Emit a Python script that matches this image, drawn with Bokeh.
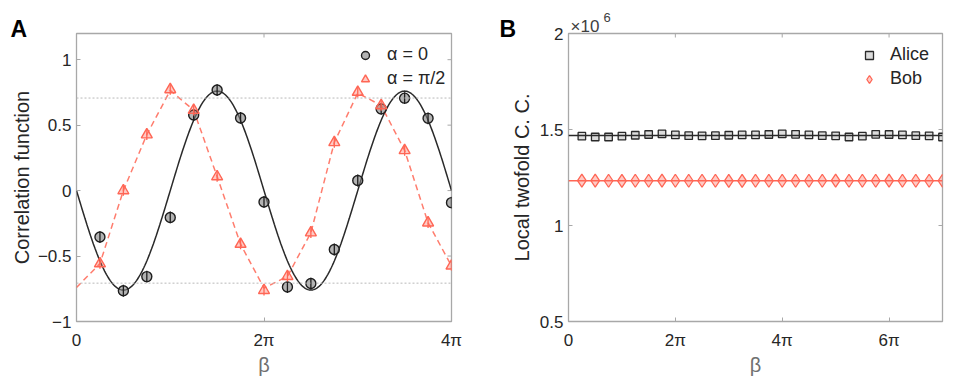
import numpy as np
from bokeh.plotting import figure
from bokeh.models import FixedTicker, Legend, LegendItem, Label, Range1d, Span
from bokeh.layouts import row
from bokeh.embed import file_html
from bokeh.resources import INLINE

FONT = "Liberation Sans"
TXT = "#262626"
AX = "#a8a8a8"
RED = "#ff6655"

# ---------------- Panel A data (beta in units of pi) ----------------
beta_a = [0.25, 0.5, 0.75, 1.0, 1.25, 1.5, 1.75, 2.0,
          2.25, 2.5, 2.75, 3.0, 3.25, 3.5, 3.75, 4.0]
corr_alpha0 = [-0.355, -0.765, -0.657, -0.205, 0.578, 0.768, 0.555, -0.087,
               -0.737, -0.710, -0.450, 0.077, 0.624, 0.706, 0.552, -0.092]
err_alpha0 = [0.045, 0.045, 0.045, 0.045, 0.045, 0.045, 0.045, 0.045,
              0.045, 0.045, 0.045, 0.045, 0.045, 0.045, 0.045, 0.045]
corr_alpha_pi2 = [-0.558, 0.000, 0.427, 0.772, 0.614, 0.107, -0.409, -0.762,
                  -0.655, -0.322, 0.368, 0.752, 0.650, 0.307, -0.246, -0.575]
err_alpha_pi2 = [0.04, 0.04, 0.04, 0.04, 0.04, 0.04, 0.04, 0.04,
                 0.04, 0.04, 0.04, 0.04, 0.04, 0.04, 0.04, 0.04]
# dashed guide curve for alpha = pi/2
dash_beta = [0.0, 0.25, 0.5, 0.75, 1.0, 1.25, 1.5, 1.75, 2.0,
             2.25, 2.5, 2.75, 3.0, 3.25, 3.5, 3.75, 4.0]
dash_alpha_pi2 = [-0.74, -0.558, 0.000, 0.427, 0.765, 0.614, 0.107, -0.409, -0.745,
                  -0.655, -0.322, 0.368, 0.745, 0.650, 0.307, -0.246, -0.575]
# sinusoidal fit for alpha = 0 :  C(beta) = -A sin(beta)
fit_amp_alpha0 = 0.76
bound = 0.707  # 1/sqrt(2) reference lines

xticks_a = [0, 2, 4]
xtick_labels_a = ["0", "2π", "4π"]
yticks_a = [-1, -0.5, 0, 0.5, 1]
ytick_labels_a = ["−1", "−0.5", "0", "0.5", "1"]

# ---------------- Panel B data ----------------
beta_b = [0.25, 0.5, 0.75, 1.0, 1.25, 1.5, 1.75, 2.0, 2.25, 2.5, 2.75, 3.0, 3.25, 3.5,
          3.75, 4.0, 4.25, 4.5, 4.75, 5.0, 5.25, 5.5, 5.75, 6.0, 6.25, 6.5, 6.75, 7.0]
alice_cc = [1.465e6, 1.461e6, 1.461e6, 1.465e6, 1.470e6, 1.474e6, 1.477e6, 1.472e6,
            1.468e6, 1.467e6, 1.468e6, 1.470e6, 1.472e6, 1.472e6, 1.474e6, 1.477e6,
            1.475e6, 1.472e6, 1.468e6, 1.467e6, 1.461e6, 1.465e6, 1.475e6, 1.474e6,
            1.472e6, 1.468e6, 1.467e6, 1.461e6]
bob_cc = [1.234e6, 1.234e6, 1.233e6, 1.232e6, 1.233e6, 1.233e6, 1.234e6, 1.233e6,
          1.233e6, 1.233e6, 1.233e6, 1.232e6, 1.232e6, 1.233e6, 1.233e6, 1.233e6,
          1.233e6, 1.233e6, 1.233e6, 1.234e6, 1.233e6, 1.233e6, 1.233e6, 1.234e6,
          1.233e6, 1.233e6, 1.233e6, 1.233e6]
alice_mean = 1.469e6
bob_mean = 1.233e6

xticks_b = [0, 2, 4, 6]
xtick_labels_b = ["0", "2π", "4π", "6π"]
yticks_b = [500000, 1000000, 1500000, 2000000]
ytick_labels_b = ["0.5", "1", "1.5", "2"]

H = 383
TOP, BOTTOM = 33, 62
TICK = 4


def style_axis(ax, ticks, labels):
    ax.ticker = FixedTicker(ticks=ticks)
    ax.major_label_overrides = dict(zip(ticks, labels))
    ax.axis_line_color = None
    ax.major_tick_in = TICK
    ax.major_tick_out = 0
    ax.major_tick_line_color = AX
    ax.major_tick_line_width = 1
    ax.minor_tick_line_color = None
    ax.major_label_text_font = FONT
    ax.major_label_text_font_size = "17px"
    ax.major_label_text_color = TXT
    ax.axis_label_text_font = FONT
    ax.axis_label_text_font_size = "20px"
    ax.axis_label_text_font_style = "normal"
    ax.axis_label_text_color = TXT


def make_fig(width, x0, x1, y0, y1, left, right, xt, xl, yt, yl, xlabel, ylabel):
    p = figure(width=width, height=H, x_range=Range1d(x0, x1), y_range=Range1d(y0, y1),
               output_backend="svg", toolbar_location=None,
               min_border_left=left, min_border_right=right,
               min_border_top=TOP, min_border_bottom=BOTTOM)
    p.grid.visible = False
    p.outline_line_color = AX
    p.outline_line_width = 1.3
    style_axis(p.xaxis[0], xt, xl)
    style_axis(p.yaxis[0], yt, yl)
    p.xaxis[0].axis_label = xlabel
    p.yaxis[0].axis_label = ylabel
    p.xaxis[0].major_label_standoff = 9
    p.yaxis[0].major_label_standoff = 5
    p.xaxis[0].axis_label_standoff = 1
    p.xaxis[0].axis_label_text_color = "#707070"
    # mirrored inner ticks on the top and right edges of the box
    fw = width - left - right
    fh = H - TOP - BOTTOM
    dy = TICK * (y1 - y0) / fh
    dx = TICK * (x1 - x0) / fw
    p.segment(xt, [y1] * len(xt), xt, [y1 - dy] * len(xt), line_color=AX, line_width=1)
    p.segment([x1] * len(yt), yt, [x1 - dx] * len(yt), yt, line_color=AX, line_width=1)
    return p


# ---------------- Panel A ----------------
pA = make_fig(488, 0, 4, -1, 1.2, 76, 37,
              xticks_a, xtick_labels_a, yticks_a, ytick_labels_a,
              "β", "Correlation function")
pA.yaxis[0].axis_label_standoff = 2

for b in (bound, -bound):
    pA.add_layout(Span(location=b, dimension="width", line_color="#b8b8b8",
                       line_width=1, line_dash="2 2"))

fit_beta = np.linspace(0, 4, 401)
pA.line(fit_beta, -fit_amp_alpha0 * np.sin(np.pi * fit_beta),
        line_color="#2a2a2a", line_width=1.5)
pA.line(dash_beta, dash_alpha_pi2, line_color=RED, line_width=1.5,
        line_dash="6 4", line_alpha=0.85)

ca = np.array(corr_alpha0)
ea = np.array(err_alpha0)
cb = np.array(corr_alpha_pi2)
eb = np.array(err_alpha_pi2)

r_circ = pA.scatter(beta_a, corr_alpha0, marker="circle", size=10,
                    fill_color="#808080", fill_alpha=0.6,
                    line_color="#1e1e1e", line_width=1.4)
pA.segment(beta_a, ca - ea, beta_a, ca + ea, line_color="#1e1e1e", line_width=1.3)
r_tri = pA.scatter(beta_a, corr_alpha_pi2, marker="triangle", size=11,
                   fill_color=RED, fill_alpha=0.35,
                   line_color=RED, line_width=1.4)
pA.segment(beta_a, cb - eb, beta_a, cb + eb, line_color=RED, line_width=1.3)

legA = Legend(items=[LegendItem(label="α = 0", renderers=[r_circ]),
                     LegendItem(label="α = π/2", renderers=[r_tri])],
              location=(279, 232), border_line_color=None,
              background_fill_alpha=0, padding=0, spacing=3, margin=0,
              glyph_width=20, glyph_height=20, label_standoff=12,
              label_text_font=FONT, label_text_font_size="18px",
              label_text_color=TXT)
pA.add_layout(legA)

pA.add_layout(Label(x=-66, y=5, x_units="screen", y_units="screen", text="A",
                    text_font=FONT, text_font_size="23px", text_font_style="bold",
                    text_color="black", text_baseline="alphabetic"), "above")

# ---------------- Panel B ----------------
pB = make_fig(472, 0, 7, 0.5e6, 2e6, 80, 18,
              xticks_b, xtick_labels_b, yticks_b, ytick_labels_b,
              "β", "Local twofold C. C.")
pB.yaxis[0].axis_label_standoff = 4

pB.add_layout(Span(location=alice_mean, dimension="width", line_color="#2a2a2a",
                   line_width=1.5))
pB.add_layout(Span(location=bob_mean, dimension="width", line_color=RED,
                   line_width=1.5))
r_sq = pB.scatter(beta_b, alice_cc, marker="square", size=7.5,
                  fill_color="#9a9a9a", fill_alpha=0.35,
                  line_color="#2a2a2a", line_width=1.3)
r_dm = pB.scatter(beta_b, bob_cc, marker="diamond", size=13,
                  fill_color=RED, fill_alpha=0.35,
                  line_color=RED, line_width=1.3)

legB = Legend(items=[LegendItem(label="Alice", renderers=[r_sq]),
                     LegendItem(label="Bob", renderers=[r_dm])],
              location=(291, 232), border_line_color=None,
              background_fill_alpha=0, padding=0, spacing=3, margin=0,
              glyph_width=20, glyph_height=20, label_standoff=11,
              label_text_font=FONT, label_text_font_size="18px",
              label_text_color=TXT)
pB.add_layout(legB)

pB.add_layout(Label(x=9, y=293, x_units="screen", y_units="screen", text="B",
                    text_font=FONT, text_font_size="23px", text_font_style="bold",
                    text_color="black", text_baseline="alphabetic"), "left")
pB.add_layout(Label(x=2, y=7, x_units="screen", y_units="screen", text="×10",
                    text_font=FONT, text_font_size="17px",
                    text_color="#404040", text_baseline="alphabetic"), "above")
pB.add_layout(Label(x=-339, y=304, x_units="screen", y_units="screen", text="6",
                    text_font=FONT, text_font_size="13px",
                    text_color="#404040", text_baseline="alphabetic"), "right")

layout = row(pA, pB)
open("out.html", "w").write(file_html(layout, INLINE))
